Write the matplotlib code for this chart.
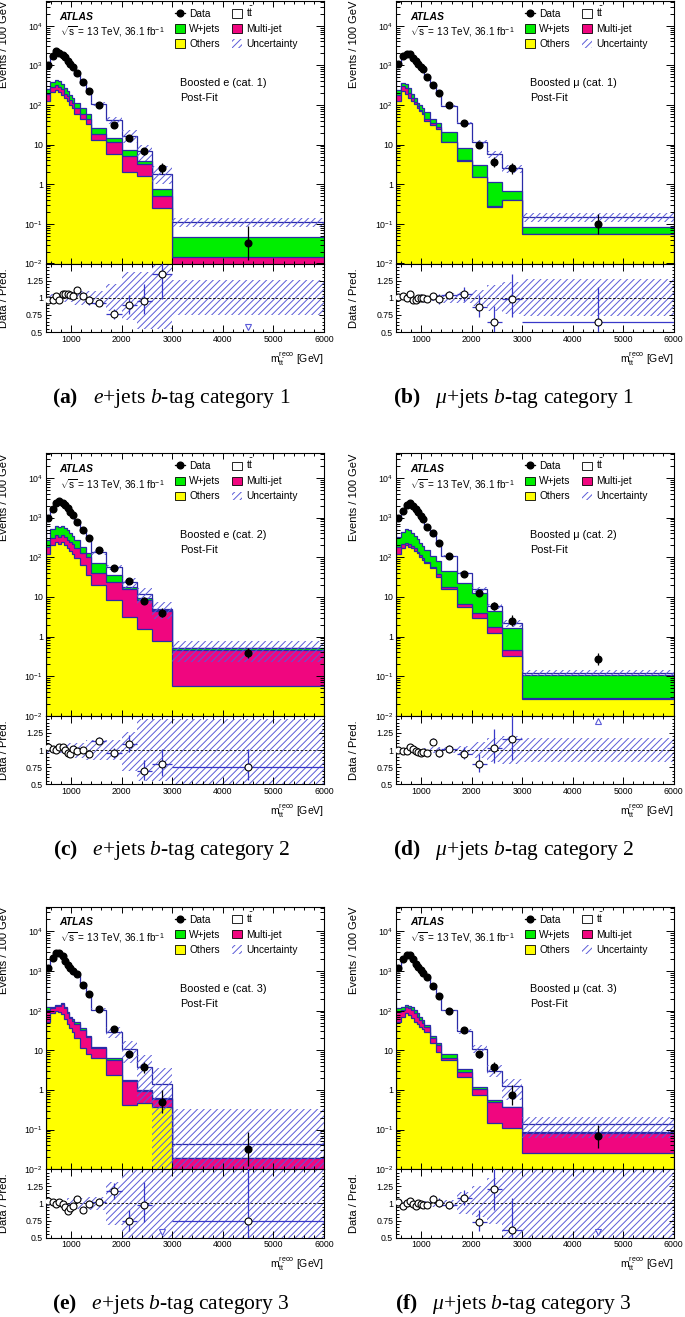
import numpy as np
import matplotlib
matplotlib.use("Agg")
import matplotlib.pyplot as plt
from matplotlib.patches import Patch
from matplotlib.lines import Line2D
from matplotlib.ticker import (FixedLocator, FixedFormatter, LogLocator,
                               MultipleLocator, NullFormatter)

plt.rcParams['font.family'] = ['Liberation Sans', 'DejaVu Sans']
plt.rcParams['mathtext.fontset'] = 'custom'
plt.rcParams['mathtext.rm'] = 'Liberation Serif'
plt.rcParams['mathtext.it'] = 'Liberation Serif:italic'
plt.rcParams['mathtext.bf'] = 'Liberation Serif:bold'
plt.rcParams['mathtext.sf'] = 'Liberation Sans'
plt.rcParams['hatch.linewidth'] = 0.7

# bin edges in m_tt reco [GeV]
edges = [500, 590, 680, 740, 805, 865, 915, 965, 1010, 1055, 1180, 1300,
         1400, 1700, 2000, 2300, 2600, 3000, 6000]

# (a) boosted e, cat. 1
data_a = [991, 1766, 2268, 2060, 1871, 1603, 1322, 1091, 899, 648, 378, 225, 100, 30.9, 14.8, 6.7, 2.5, 0.033]
pred_a = [1022, 1821, 2202, 2146, 1765, 1512, 1259, 1049, 873, 579, 367, 234, 107.5, 40.7, 16.6, 7.0, 1.85, 0.11]
others_a = [125, 215, 234, 215, 179, 147, 126, 102, 83, 58, 44, 33, 13, 5.8, 2.0, 1.65, 0.25, 0.005]
multijet_a = [59, 67, 78, 75, 69, 45, 43, 31, 31, 25, 16, 12, 5.3, 5.5, 3.2, 1.55, 0.25, 0.0095]
wjets_a = [64, 88, 112, 110, 82, 70, 56, 42, 39, 27, 26, 15, 8.7, 3.7, 2.2, 0.6, 0.26, 0.0315]
unc_lo_a = [0.94, 0.94, 0.94, 0.94, 0.94, 0.94, 0.94, 0.94, 0.94, 0.9, 0.9, 0.9, 0.9, 0.8, 0.68, 0.54, 0.54, 0.75]
unc_hi_a = [1.06, 1.06, 1.06, 1.06, 1.06, 1.06, 1.06, 1.06, 1.06, 1.1, 1.1, 1.1, 1.1, 1.2, 1.37, 1.37, 1.55, 1.26]

# (b) boosted mu, cat. 1
data_b = [1091, 1766, 1983, 1906, 1543, 1322, 1091, 917, 786, 514, 318, 200, 100, 36, 9.9, 3.7, 2.5, 0.099]
pred_b = [1080, 1731, 1983, 1815, 1591, 1377, 1102, 917, 794, 524, 312, 204, 96, 34.3, 11.5, 5.7, 2.53, 0.152]
others_b = [126, 225, 184, 153, 126, 108, 86, 70, 58, 40, 31.5, 24.5, 11.3, 3.9, 1.5, 0.26, 0.39, 0.056]
multijet_b = [49, 75, 88, 51, 27, 13, 8, 6, 6, 4, 4.5, 3.5, 0.5, 0.2, 0.06, 0.03, 0.01, 0.001]
wjets_b = [59, 63, 72, 58, 39, 32, 20, 22, 22, 22, 8, 7, 9.2, 3.9, 1.5, 0.83, 0.27, 0.026]
unc_lo_b = [0.965, 0.965, 0.965, 0.965, 0.965, 0.965, 0.965, 0.965, 0.965, 0.965, 0.955, 0.955, 0.93, 0.92, 0.88, 0.81, 0.77, 0.73]
unc_hi_b = [1.035, 1.035, 1.035, 1.035, 1.035, 1.035, 1.035, 1.035, 1.035, 1.035, 1.045, 1.045, 1.07, 1.08, 1.12, 1.19, 1.23, 1.27]

# (c) boosted e, cat. 2
data_c = [1000, 1653, 2297, 2630, 2390, 2085, 1720, 1417, 1167, 793, 489, 301, 153, 52.8, 25.3, 8.1, 4.0, 0.395]
pred_c = [962, 1621, 2297, 2529, 2298, 2085, 1792, 1507, 1144, 809, 489, 317, 135, 55.6, 23.2, 11.7, 5.06, 0.52]
others_c = [121, 204, 240, 217, 240, 201, 169, 147, 121, 94, 64, 36, 20, 8.4, 3.07, 1.56, 0.79, 0.057]
multijet_c = [64, 97, 120, 114, 132, 117, 103, 101, 96, 75, 67, 68, 19.5, 16, 12.5, 6.8, 3.5, 0.40]
wjets_c = [87, 207, 260, 241, 248, 219, 218, 157, 127, 103, 54, 27, 31.5, 11.6, 2.6, 0.85, 0.4, 0.05]
unc_lo_c = [0.955, 0.955, 0.955, 0.955, 0.955, 0.955, 0.89, 0.89, 0.89, 0.89, 0.89, 0.86, 0.86, 0.85, 0.7, 0.55, 0.55, 0.45]
unc_hi_c = [1.045, 1.045, 1.045, 1.045, 1.045, 1.045, 1.11, 1.11, 1.11, 1.11, 1.11, 1.14, 1.14, 1.15, 1.27, 1.45, 1.45, 1.45]

# (d) boosted mu, cat. 2
data_d = [1000, 1473, 2085, 2297, 1968, 1622, 1363, 1123, 908, 593, 419, 225, 108, 37.3, 12.4, 6.0, 2.5, 0.27]
pred_d = [1000, 1503, 2106, 2209, 1949, 1647, 1405, 1170, 936, 618, 374, 234, 107, 39.3, 15.5, 5.8, 2.14, 0.123]
others_d = [121, 169, 204, 185, 169, 147, 126, 104, 86, 71, 52.8, 32.6, 15.6, 5.5, 2.9, 1.26, 0.33, 0.027]
multijet_d = [64, 48, 30, 32, 23, 22, 13, 10, 8, 7, 5.2, 5.4, 2.6, 1.1, 0.97, 0.53, 0.13, 0.0005]
wjets_d = [146, 227, 274, 273, 227, 175, 145, 120, 98, 75, 50, 44, 26.8, 15.4, 8.4, 2.5, 1.16, 0.077]
unc_lo_d = [0.97, 0.97, 0.97, 0.97, 0.97, 0.97, 0.97, 0.97, 0.97, 0.97, 0.955, 0.955, 0.955, 0.94, 0.88, 0.83, 0.8, 0.82]
unc_hi_d = [1.03, 1.03, 1.03, 1.03, 1.03, 1.03, 1.03, 1.03, 1.03, 1.03, 1.045, 1.045, 1.045, 1.06, 1.12, 1.17, 1.2, 1.18]

# (e) boosted e, cat. 3
data_e = [1167, 2168, 2787, 2899, 2390, 1822, 1417, 1167, 998, 840, 444, 263, 108, 34.5, 7.9, 3.7, 0.51, 0.032]
pred_e = [1122, 2115, 2815, 2856, 2414, 1918, 1592, 1241, 1040, 792, 488, 266, 106, 29.2, 10.7, 3.8, 1.42, 0.043]
others_e = [53, 89, 98, 92, 82, 60, 46, 36, 29.5, 20, 11.2, 8, 6.3, 2.4, 0.42, 0.46, 0.37, 0.002]
multijet_e = [51, 28, 33, 39, 65, 57, 40, 28, 26.5, 26, 21.8, 13.2, 4.9, 3.3, 1.27, 0.48, 0.21, 0.017]
wjets_e = [17, 9, 8, 8, 12, 9, 8, 7, 4, 5, 3, 2.2, 1.2, 0.6, 0.1, 0.06, 0.04, 0.0007]
unc_lo_e = [0.96, 0.96, 0.96, 0.96, 0.96, 0.96, 0.915, 0.915, 0.915, 0.915, 0.915, 0.9, 0.9, 0.68, 0.45, 0.12, 0.0, 0.0]
unc_hi_e = [1.04, 1.04, 1.04, 1.04, 1.04, 1.04, 1.085, 1.085, 1.085, 1.085, 1.085, 1.1, 1.1, 1.31, 1.6, 2.0, 2.5, 7.7]

# (f) boosted mu, cat. 3
data_f = [1167, 1968, 2531, 2531, 1968, 1473, 1286, 1060, 873, 692, 419, 239, 98, 32.6, 7.9, 3.7, 0.75, 0.067]
pred_f = [1144, 2039, 2531, 2445, 1988, 1526, 1286, 1076, 891, 710, 392, 237, 101, 30.2, 10.8, 3.05, 1.23, 0.14]
others_f = [52.8, 71, 89, 78, 64, 52.8, 46, 39.5, 33.8, 29.5, 15, 9.25, 5.7, 2.17, 0.75, 0.15, 0.11, 0.026]
multijet_f = [41, 33, 37, 36, 40, 33, 25, 18.5, 14, 8.5, 5, 4.45, 0.6, 0.63, 0.29, 0.34, 0.26, 0.055]
wjets_f = [20, 22, 13, 17, 17, 18, 15, 10, 10, 5.4, 3.4, 1.9, 1.7, 0.6, 0.17, 0.07, 0.01, 0.008]
unc_lo_f = [0.97, 0.97, 0.97, 0.97, 0.97, 0.97, 0.97, 0.97, 0.97, 0.97, 0.95, 0.95, 0.95, 0.85, 0.8, 0.7, 0.45, 0.45]
unc_hi_f = [1.03, 1.03, 1.03, 1.03, 1.03, 1.03, 1.03, 1.03, 1.03, 1.03, 1.05, 1.05, 1.05, 1.17, 1.25, 1.37, 1.55, 1.5]

regions = ['Boosted e (cat. 1)', 'Boosted \u03bc (cat. 1)',
           'Boosted e (cat. 2)', 'Boosted \u03bc (cat. 2)',
           'Boosted e (cat. 3)', 'Boosted \u03bc (cat. 3)']
captions = [r'$\mathbf{(a)}$   $e$+jets $b$-tag category 1',
            r'$\mathbf{(b)}$   $\mu$+jets $b$-tag category 1',
            r'$\mathbf{(c)}$   $e$+jets $b$-tag category 2',
            r'$\mathbf{(d)}$   $\mu$+jets $b$-tag category 2',
            r'$\mathbf{(e)}$   $e$+jets $b$-tag category 3',
            r'$\mathbf{(f)}$   $\mu$+jets $b$-tag category 3']

panels = [
    (data_a, pred_a, others_a, multijet_a, wjets_a, unc_lo_a, unc_hi_a),
    (data_b, pred_b, others_b, multijet_b, wjets_b, unc_lo_b, unc_hi_b),
    (data_c, pred_c, others_c, multijet_c, wjets_c, unc_lo_c, unc_hi_c),
    (data_d, pred_d, others_d, multijet_d, wjets_d, unc_lo_d, unc_hi_d),
    (data_e, pred_e, others_e, multijet_e, wjets_e, unc_lo_e, unc_hi_e),
    (data_f, pred_f, others_f, multijet_f, wjets_f, unc_lo_f, unc_hi_f),
]

GREEN = '#00ee00'
PINK = '#f0067f'
YELLOW = '#ffff00'
LINE = '#2a2aa8'
HATCH = '#5a5ad8'
ERRB = '#3838c8'

W, H = 685, 1317
fig = plt.figure(figsize=(W / 100, H / 100), dpi=100)


def rect(x, y, w, h):
    return [x / W, 1 - (y + h) / H, w / W, h / H]


edges_arr = np.array(edges, dtype=float)
widths = np.diff(edges_arr)
centers = 0.5 * (edges_arr[1:] + edges_arr[:-1])
col_left = [45.7, 396.0]
col_width = [278.3, 277.5]
row_top = [1.0, 453.3, 906.7]
main_h, ratio_h = 262.5, 68.5

for i, (data, pred, oth, mj, wj, lo, hi) in enumerate(panels):
    col, row = i % 2, i // 2
    x0, w0, y0 = col_left[col], col_width[col], row_top[row]
    ax = fig.add_axes(rect(x0, y0, w0, main_h))
    rx = fig.add_axes(rect(x0, y0 + main_h, w0, ratio_h))

    data = np.array(data, dtype=float)
    pred = np.array(pred, dtype=float)
    oth = np.array(oth, dtype=float)
    c2 = oth + np.array(mj, dtype=float)
    c3 = c2 + np.array(wj, dtype=float)
    lo = np.array(lo, dtype=float)
    hi = np.array(hi, dtype=float)

    # stacked prediction
    for top, fc in [(pred, 'white'), (c3, GREEN), (c2, PINK), (oth, YELLOW)]:
        ax.stairs(top, edges_arr, baseline=1e-5, fill=True, facecolor=fc,
                  edgecolor=LINE, linewidth=0.9)
    ax.stairs(pred * hi, edges_arr, baseline=np.maximum(pred * lo, 1e-5),
              fill=True, facecolor='none', edgecolor=HATCH, hatch='/////',
              linewidth=0)

    # data with poisson errors
    n = data * widths / 100
    err_up = (np.sqrt(n + 0.25) + 0.5) * 100 / widths
    err_dn = (np.sqrt(n + 0.25) - 0.5) * 100 / widths
    ax.errorbar(centers, data, yerr=[err_dn, err_up], fmt='o', color='black',
                ms=4.8, elinewidth=0.9, capsize=0, zorder=5)

    ax.set_yscale('log')
    ax.set_xlim(500, 6000)
    ax.set_ylim(1e-2, 4.2e4)
    ax.yaxis.set_major_locator(FixedLocator([1e-2, 1e-1, 1, 10, 1e2, 1e3, 1e4]))
    ax.yaxis.set_major_formatter(FixedFormatter(
        [r'$\mathsf{10^{-2}}$', r'$\mathsf{10^{-1}}$', '1', '10',
         r'$\mathsf{10^{2}}$', r'$\mathsf{10^{3}}$', r'$\mathsf{10^{4}}$']))
    ax.yaxis.set_minor_locator(LogLocator(base=10, subs=np.arange(2, 10), numticks=20))
    ax.yaxis.set_minor_formatter(NullFormatter())
    ax.xaxis.set_major_locator(MultipleLocator(1000))
    ax.xaxis.set_minor_locator(MultipleLocator(200))
    ax.tick_params(which='both', direction='in', top=True, right=True,
                   labelbottom=False, labelsize=6.3, pad=2, width=0.7)
    ax.tick_params(axis='y', which='major', length=5.5)
    ax.tick_params(axis='y', which='minor', length=2.8)
    ax.tick_params(axis='x', which='major', length=4)
    ax.tick_params(axis='x', which='minor', length=2)
    for sp in ax.spines.values():
        sp.set_linewidth(0.8)

    ax.text(0.05, 0.94, 'ATLAS', transform=ax.transAxes, fontsize=7.5,
            fontweight='bold', fontstyle='italic', va='center')
    ax.text(0.05, 0.882, r'$\sqrt{\mathsf{s}}$ = 13 TeV, 36.1 fb$^{\mathsf{-1}}$',
            transform=ax.transAxes, fontsize=7.2, va='center')
    ax.text(0.483, 0.688, regions[i], transform=ax.transAxes, fontsize=7.8,
            va='center')
    ax.text(0.483, 0.63, 'Post-Fit', transform=ax.transAxes, fontsize=7.8,
            va='center')

    handles = [Line2D([], [], color='black', marker='o', ms=4.8, lw=0.9),
               Patch(facecolor=GREEN, edgecolor='black', lw=0.6),
               Patch(facecolor=YELLOW, edgecolor='black', lw=0.6),
               Patch(facecolor='white', edgecolor='black', lw=0.6),
               Patch(facecolor=PINK, edgecolor='black', lw=0.6),
               Patch(facecolor='none', edgecolor=HATCH, hatch='/////', lw=0)]
    labels = ['Data', 'W+jets', 'Others', r'$\mathsf{t\bar{t}}$',
              'Multi-jet', 'Uncertainty']
    ax.legend(handles, labels, ncol=2, loc='upper left',
              bbox_to_anchor=(0.465, 0.985), frameon=False, fontsize=7.3,
              handlelength=1.0, handleheight=0.9, handletextpad=0.4,
              columnspacing=1.1, labelspacing=0.5, borderpad=0,
              borderaxespad=0)

    # ratio panel
    ratio = data / pred
    rx.stairs(hi, edges_arr, baseline=lo, fill=True, facecolor='none',
              edgecolor=HATCH, hatch='/////', linewidth=0)
    rx.axhline(1, color='black', lw=0.6, ls=(0, (3, 2)))
    ok = (ratio >= 0.5) & (ratio <= 1.5)
    rx.errorbar(centers[ok], ratio[ok], xerr=widths[ok] / 2,
                yerr=[err_dn[ok] / pred[ok], err_up[ok] / pred[ok]], fmt='o',
                mfc='white', mec='black', mew=0.8, ms=5, ecolor=ERRB,
                elinewidth=0.9, capsize=0, zorder=5)
    low = ratio < 0.5
    high = ratio > 1.5
    rx.plot(centers[low], np.full(low.sum(), 0.58), 'v', mfc='white',
            mec=HATCH, ms=5, mew=0.8)
    rx.plot(centers[high], np.full(high.sum(), 1.42), '^', mfc='white',
            mec=HATCH, ms=5, mew=0.8)
    rx.set_xlim(500, 6000)
    rx.set_ylim(0.5, 1.5)
    rx.yaxis.set_major_locator(FixedLocator([0.5, 0.75, 1.0, 1.25, 1.5]))
    rx.yaxis.set_major_formatter(FixedFormatter(['0.5', '0.75', '1', '1.25', '']))
    rx.yaxis.set_minor_locator(MultipleLocator(0.05))
    rx.xaxis.set_major_locator(MultipleLocator(1000))
    rx.xaxis.set_minor_locator(MultipleLocator(200))
    rx.tick_params(which='both', direction='in', top=True, right=True,
                   labelsize=6.3, pad=2, width=0.7)
    rx.tick_params(axis='x', which='major', length=5)
    rx.tick_params(axis='x', which='minor', length=2.5)
    rx.tick_params(axis='y', which='major', length=3.5)
    rx.tick_params(axis='y', which='minor', length=1.8)
    for sp in rx.spines.values():
        sp.set_linewidth(0.8)

    # axis titles
    fx = (x0 - 42) / W
    fig.text(fx, 1 - y0 / H, 'Events / 100 GeV', rotation=90, ha='center',
             va='top', fontsize=8)
    fig.text(fx, 1 - (y0 + main_h + ratio_h / 2) / H, 'Data / Pred.',
             rotation=90, ha='center', va='center', fontsize=8)
    fig.text((x0 + w0) / W, 1 - (y0 + main_h + ratio_h + 27) / H,
             r'$\mathsf{m_{t\bar{t}}^{reco}}$ [GeV]', ha='right',
             va='center', fontsize=7.5)

    # caption
    fig.text((0.25 + 0.5 * col), 1 - (y0 + 397) / H, captions[i],
             ha='center', va='center', fontsize=15.5,
             family='Liberation Serif')

fig.savefig('out.png', dpi=100)
